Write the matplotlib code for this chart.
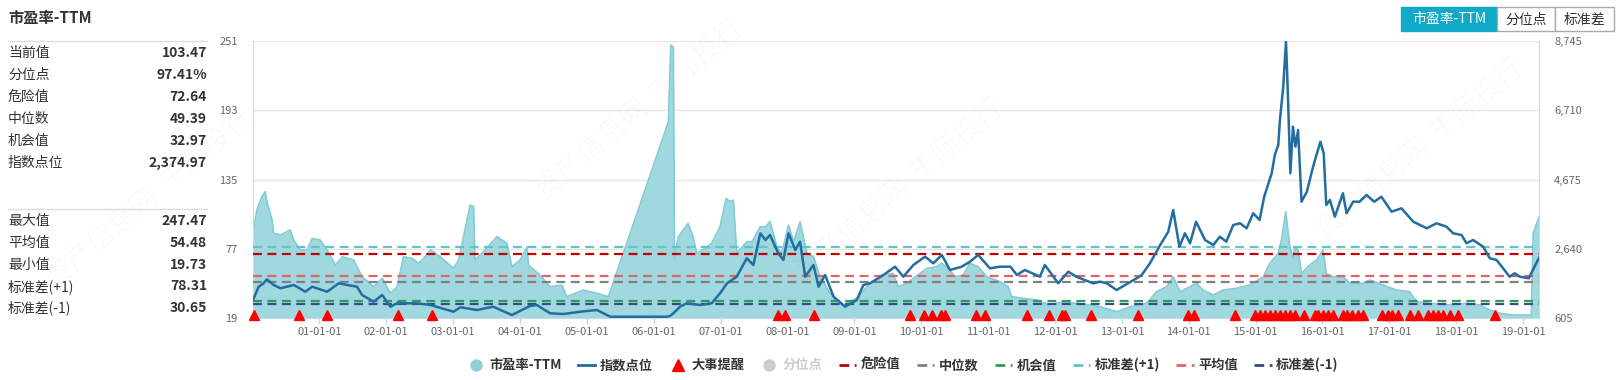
import matplotlib
matplotlib.use('Agg')
import matplotlib.pyplot as plt
import matplotlib.dates as mdates
import matplotlib.transforms as mtrans
from matplotlib.lines import Line2D
from matplotlib.patches import Rectangle
from matplotlib.ticker import FuncFormatter
import pandas as pd

plt.rcParams['font.family'] = ['Noto Sans CJK SC', 'DejaVu Sans']

# ---- data ----
pe_dates = ['2000-01-04', '2000-01-25', '2000-02-22', '2000-03-11', '2000-03-20', '2000-04-17', '2000-04-26',
            '2000-06-02', '2000-07-26', '2000-08-13', '2000-09-19', '2000-10-25', '2000-11-22', '2001-01-05',
            '2001-02-12', '2001-03-29', '2001-05-07', '2001-07-06', '2001-08-22', '2001-10-24', '2001-12-10',
            '2002-01-23', '2002-03-01', '2002-04-05', '2002-05-22', '2002-06-27', '2002-07-24', '2002-08-30',
            '2002-10-23', '2003-01-03', '2003-01-31', '2003-04-04', '2003-04-23', '2003-04-30', '2003-06-16',
            '2003-08-28', '2003-10-22', '2003-11-18', '2004-01-02', '2004-02-09', '2004-02-16', '2004-04-20',
            '2004-06-14', '2004-08-17', '2004-09-13', '2004-12-13', '2005-02-24', '2005-04-28', '2006-03-22',
            '2006-04-04', '2006-04-18', '2006-04-24', '2006-05-15', '2006-07-07', '2006-08-04', '2006-08-23',
            '2006-10-09', '2006-11-13', '2006-12-29', '2007-01-31', '2007-02-22', '2007-03-12', '2007-03-30',
            '2007-05-24', '2007-06-21', '2007-08-06', '2007-09-03', '2007-09-28', '2007-11-05', '2007-11-30',
            '2008-01-07', '2008-02-04', '2008-03-10', '2008-04-16', '2008-05-22', '2008-06-27', '2008-08-21',
            '2008-11-03', '2009-01-14', '2009-03-10', '2009-06-08', '2009-07-31', '2009-08-28', '2009-10-14',
            '2009-12-25', '2010-02-01', '2010-03-26', '2010-04-23', '2010-05-28', '2010-07-05', '2010-08-18',
            '2010-09-24', '2010-11-08', '2010-12-24', '2011-03-07', '2011-04-21', '2011-05-10', '2011-07-12',
            '2011-09-23', '2011-12-05', '2012-02-15', '2012-04-27', '2012-07-10', '2012-09-03', '2012-12-03',
            '2013-02-18', '2013-05-16', '2013-07-09', '2013-09-02', '2013-10-08', '2013-11-14', '2014-01-08',
            '2014-02-13', '2014-03-21', '2014-05-15', '2014-07-08', '2014-09-19', '2014-12-01', '2015-02-12',
            '2015-03-20', '2015-05-05', '2015-05-22', '2015-06-15', '2015-07-07', '2015-07-24', '2015-08-03',
            '2015-08-21', '2015-09-09', '2015-10-23', '2015-11-30', '2016-01-05', '2016-01-22', '2016-02-29',
            '2016-04-22', '2016-05-30', '2016-08-10', '2016-09-16', '2016-11-28', '2017-02-09', '2017-04-21',
            '2017-05-29', '2017-08-10', '2017-11-09', '2018-02-26', '2018-05-10', '2018-07-03', '2018-08-27',
            '2018-11-08', '2018-12-14', '2019-02-15', '2019-02-25', '2019-03-29']
pe_values = [89.9, 109.5, 120.6, 124.8, 116.4, 101.0, 89.9,
             88.5, 92.7, 84.3, 76.0, 76.0, 85.7, 84.3,
             76.0, 63.4, 70.3, 67.6, 53.6, 45.2, 52.2,
             39.7, 45.2, 70.3, 69.0, 64.8, 69.0, 76.0,
             70.3, 60.6, 67.6, 113.6, 112.2, 67.6, 74.5,
             87.1, 81.6, 62.0, 67.6, 78.7, 63.4, 55.0,
             45.2, 46.6, 36.8, 42.4, 39.7, 36.8, 183.4,
             247.5, 246.0, 69.0, 87.0, 98.3, 87.0, 73.2,
             77.4, 81.6, 95.5, 119.2, 116.4, 117.8, 73.2,
             82.9, 82.9, 95.5, 95.5, 99.7, 78.7, 73.2,
             96.9, 82.9, 99.7, 73.2, 70.3, 53.6, 39.7,
             29.9, 35.5, 45.2, 55.0, 56.4, 45.2, 48.1,
             56.4, 60.6, 62.0, 64.8, 60.6, 53.6, 55.0,
             64.8, 62.0, 53.6, 49.4, 45.2, 36.8, 35.5,
             34.1, 29.9, 32.7, 31.3, 29.9, 28.5, 24.3,
             28.5, 31.3, 41.1, 45.2, 53.6, 41.1, 45.2,
             48.1, 42.4, 38.3, 42.4, 43.9, 46.6, 53.6,
             64.8, 73.2, 84.3, 108.0, 78.7, 69.0, 78.7,
             76.0, 56.4, 63.4, 67.6, 76.0, 56.4, 53.6,
             53.6, 48.1, 48.1, 50.8, 46.6, 42.4, 41.1,
             32.7, 31.3, 29.9, 31.3, 29.9, 25.7, 22.9,
             21.5, 21.5, 21.5, 89.9, 103.5]

idx_dates = ['2000-01-04', '2000-02-04', '2000-03-02', '2000-03-20', '2000-04-26', '2000-06-02', '2000-08-14',
             '2000-10-16', '2000-11-22', '2001-02-12', '2001-04-16', '2001-06-01', '2001-07-25', '2001-08-22',
             '2001-10-24', '2001-12-10', '2002-01-23', '2002-03-01', '2002-06-18', '2002-08-30', '2003-01-03',
             '2003-02-10', '2003-05-12', '2003-08-08', '2003-11-18', '2004-02-25', '2004-04-02', '2004-06-14',
             '2004-08-26', '2004-11-25', '2005-02-24', '2005-05-09', '2006-03-13', '2006-03-31', '2006-04-18',
             '2006-05-24', '2006-06-30', '2006-09-11', '2006-11-13', '2006-12-29', '2007-02-05', '2007-03-30',
             '2007-05-24', '2007-06-29', '2007-08-06', '2007-09-03', '2007-09-28', '2007-11-12', '2007-12-10',
             '2008-01-07', '2008-02-13', '2008-03-10', '2008-04-07', '2008-05-22', '2008-06-19', '2008-07-25',
             '2008-09-09', '2008-11-11', '2009-01-14', '2009-02-19', '2009-03-27', '2009-06-08', '2009-08-11',
             '2009-09-25', '2009-11-19', '2010-01-22', '2010-03-08', '2010-04-23', '2010-06-07', '2010-08-10',
             '2010-09-24', '2010-11-08', '2011-01-11', '2011-03-07', '2011-05-03', '2011-06-07', '2011-07-21',
             '2011-10-11', '2011-11-07', '2012-01-19', '2012-03-14', '2012-04-27', '2012-07-27', '2012-09-03',
             '2012-10-10', '2012-12-03', '2013-03-22', '2013-04-19', '2013-06-03', '2013-07-29', '2013-09-11',
             '2013-10-08', '2013-11-11', '2013-12-11', '2014-01-08', '2014-02-10', '2014-03-31', '2014-05-15',
             '2014-06-20', '2014-07-25', '2014-09-01', '2014-10-08', '2014-11-13', '2014-12-19', '2015-01-23',
             '2015-02-17', '2015-03-30', '2015-04-16', '2015-05-05', '2015-05-14', '2015-06-01', '2015-06-16',
             '2015-06-22', '2015-07-10', '2015-07-24', '2015-08-07', '2015-08-21', '2015-09-09', '2015-10-08',
             '2015-11-11', '2015-11-30', '2015-12-21', '2016-01-08', '2016-01-22', '2016-02-11', '2016-03-09',
             '2016-04-22', '2016-05-12', '2016-06-17', '2016-07-22', '2016-08-29', '2016-10-10', '2016-11-18',
             '2017-01-13', '2017-03-08', '2017-05-11', '2017-07-24', '2017-09-15', '2017-11-09', '2017-12-15',
             '2018-01-30', '2018-02-26', '2018-04-03', '2018-05-28', '2018-07-03', '2018-08-09', '2018-09-14',
             '2018-10-19', '2018-11-16', '2018-12-14', '2019-02-01', '2019-03-29']
idx_values = [1134, 1525, 1625, 1742, 1575, 1478, 1575,
              1378, 1525, 1378, 1625, 1575, 1525, 1281,
              1084, 1281, 937, 1037, 1037, 987, 790,
              920, 840, 937, 693, 958, 987, 743,
              723, 790, 840, 643, 643, 664, 743,
              937, 1037, 987, 1037, 1331, 1625, 1819,
              2360, 2163, 3094, 2897, 3044, 2506, 2310,
              3094, 2603, 2848, 1819, 2163, 1525, 1869,
              1231, 937, 1134, 1575, 1625, 1869, 2113,
              1819, 2163, 2408, 2212, 2457, 2016, 2113,
              2260, 2457, 2065, 2113, 2113, 1869, 2016,
              1819, 2163, 1625, 1966, 1819, 1625, 1672,
              1625, 1428, 1772, 1869, 2212, 2750, 3141,
              3779, 2700, 3094, 2800, 3435, 2897, 2750,
              2995, 2848, 3338, 3388, 3241, 3682, 3485,
              4170, 4858, 5396, 5690, 6424, 7403, 8726,
              7894, 4858, 6228, 5640, 6130, 4023, 4317,
              5052, 5396, 5786, 5446, 3926, 4073, 3582,
              4270, 3682, 4023, 4023, 4220, 4023, 4170,
              3729, 3829, 3435, 3241, 3388, 3288, 3094,
              3044, 2800, 2897, 2700, 2360, 2310, 2065,
              1819, 1919, 1820, 1772, 2375]

event_dates = ['2000-01-07', '2000-09-10', '2001-02-12', '2002-03-06', '2002-09-08',
               '2007-11-12', '2007-12-19', '2008-05-27', '2009-11-01', '2010-01-16', '2010-02-27',
               '2010-04-19', '2010-05-10', '2010-10-27', '2010-12-14', '2011-08-03', '2011-11-30',
               '2012-02-06', '2012-02-24', '2012-07-14', '2013-03-29', '2013-12-29', '2014-01-31',
               '2014-09-13', '2014-12-28', '2015-01-24', '2015-02-21', '2015-03-20', '2015-04-16',
               '2015-05-14', '2015-06-10', '2015-07-07', '2015-08-03', '2015-09-21', '2015-11-20',
               '2015-12-08', '2016-01-05', '2016-02-01', '2016-02-28', '2016-04-23', '2016-05-12',
               '2016-06-08', '2016-07-14', '2016-08-10', '2016-11-19', '2016-12-26', '2017-01-13',
               '2017-02-18', '2017-04-22', '2017-06-07', '2017-07-31', '2017-08-27', '2017-09-24',
               '2017-10-21', '2017-11-27', '2018-01-11', '2018-08-02']

ref_names = ['危险值', '中位数', '机会值', '标准差(+1)', '平均值', '标准差(-1)']
ref_values = [72.64, 49.39, 32.97, 78.31, 54.48, 30.65]

stat_top_labels = ['当前值', '分位点', '危险值', '中位数', '机会值', '指数点位']
stat_top_values = ['103.47', '97.41%', '72.64', '49.39', '32.97', '2,374.97']
stat_bot_labels = ['最大值', '平均值', '最小值', '标准差(+1)', '标准差(-1)']
stat_bot_values = ['247.47', '54.48', '19.73', '78.31', '30.65']

pe_ticks = [19, 77, 135, 193, 251]
idx_ticks = [605, 2640, 4675, 6710, 8745]

# ---- styles ----
ref_colors = {'危险值': '#c00000', '中位数': '#808080', '机会值': '#2e9a5a',
              '标准差(+1)': '#63c3c9', '平均值': '#e06666', '标准差(-1)': '#3c4a8a'}
area_fill = '#a0d8e0'
area_edge = '#83cbd6'
idx_color = '#236ea0'
txt = '#333333'

pe_x = pd.to_datetime(pe_dates)
idx_x = pd.to_datetime(idx_dates)
ev_x = pd.to_datetime(event_dates)

W, H = 1621, 380
fig = plt.figure(figsize=(W / 100, H / 100), dpi=100)

# overlay in pixel coordinates for the side panel and the buttons
ov = fig.add_axes([0, 0, 1, 1])
ov.set_xlim(0, W)
ov.set_ylim(H, 0)
ov.axis('off')

ov.text(8, 18, '市盈率-TTM', fontsize=11, fontweight='bold', color=txt, va='center')
ov.plot([8, 207], [41, 41], color='#dddddd', lw=1)
ov.plot([8, 207], [209, 209], color='#dddddd', lw=1)
for i, (lab, val) in enumerate(zip(stat_top_labels, stat_top_values)):
    y = 53 + i * 22
    ov.text(8, y, lab, fontsize=10, color=txt, va='center')
    ov.text(207, y, val, fontsize=10, color=txt, va='center', ha='right', fontweight='bold')
for i, (lab, val) in enumerate(zip(stat_bot_labels, stat_bot_values)):
    y = 221 + i * 21.8
    ov.text(8, y, lab, fontsize=10, color=txt, va='center')
    ov.text(207, y, val, fontsize=10, color=txt, va='center', ha='right', fontweight='bold')

buttons = [('市盈率-TTM', 1401, 96, True), ('分位点', 1497, 58, False), ('标准差', 1555, 59, False)]
for name, bx, bw, active in buttons:
    ov.add_patch(Rectangle((bx, 7), bw, 24, facecolor='#10a9c6' if active else 'white',
                           edgecolor='#10a9c6' if active else '#aaaaaa', lw=1))
    ov.text(bx + bw / 2, 19.5, name, fontsize=10, color='white' if active else txt,
            ha='center', va='center')

# ---- main chart ----
ax = fig.add_axes([253 / W, 1 - 318 / H, (1539 - 253) / W, (318 - 41) / H])
ax.patch.set_alpha(0)
ax.fill_between(pe_x, pe_ticks[0], pe_values, color=area_fill, lw=0, zorder=2)
ax.plot(pe_x, pe_values, color=area_edge, lw=1.2, zorder=2)

for name, v in zip(ref_names, ref_values):
    ax.axhline(v, color=ref_colors[name], lw=1.6, dashes=(4, 2.5), zorder=3)

shift = mtrans.ScaledTranslation(0, 2.5 / 72, fig.dpi_scale_trans)
ax.plot(ev_x, [pe_ticks[0]] * len(ev_x), ls='', marker='^', ms=7.5, color='#ff0000',
        zorder=6, clip_on=False, transform=ax.transData + shift)

ax.set_ylim(pe_ticks[0], pe_ticks[-1])
ax.set_yticks(pe_ticks)
ax.set_xlim(pe_x[0], pe_x[-1])
ax.xaxis.set_major_locator(mdates.YearLocator())
ax.xaxis.set_major_formatter(mdates.DateFormatter('%y-%m-%d'))
ax.grid(axis='y', color='#e6e6e6', lw=1, zorder=0)
ax.tick_params(axis='y', length=0, colors='#666666', labelsize=8, pad=11)
ax.tick_params(axis='x', length=4.5, width=1, color='#ccd6eb', labelcolor='#666666', labelsize=8, pad=2)
ax.spines['top'].set_visible(False)
ax.spines['bottom'].set_color('#ccd6eb')
ax.spines['left'].set_color('#ccd6eb')
ax.spines['right'].set_color('#ccd6eb')

tw = ax.twinx()
tw.plot(idx_x, idx_values, color=idx_color, lw=1.8, zorder=4)
tw.set_ylim(idx_ticks[0], idx_ticks[-1])
tw.set_yticks(idx_ticks)
tw.yaxis.set_major_formatter(FuncFormatter(lambda v, p: f'{v:,.0f}'))
tw.tick_params(axis='y', length=0, colors='#666666', labelsize=8, pad=11)
for s in tw.spines.values():
    s.set_visible(False)

# ---- legend ----
handles = [Line2D([], [], ls='', marker='o', ms=8, color='#8fd0da'),
           Line2D([], [], color=idx_color, lw=2),
           Line2D([], [], ls='', marker='^', ms=9, color='#ff0000'),
           Line2D([], [], ls='', marker='o', ms=8, color='#cccccc')]
labels = ['市盈率-TTM', '指数点位', '大事提醒', '分位点']
for name in ref_names:
    handles.append(Line2D([], [], color=ref_colors[name], lw=2, dashes=(3.5, 2, 1, 2)))
    labels.append(name)
leg = fig.legend(handles, labels, loc='center', bbox_to_anchor=(903 / W, 1 - 365 / H), ncol=len(labels),
                 frameon=False, prop={'size': 9.5, 'weight': 'bold'}, handlelength=1.3,
                 handletextpad=0.35, columnspacing=1.25)
for t in leg.get_texts():
    t.set_color('#cccccc' if t.get_text() == '分位点' else txt)

# faint watermark
wm = fig.add_axes([0, 0, 1, 1])
wm.set_xlim(0, W)
wm.set_ylim(H, 0)
wm.axis('off')
for cx, cy in [(150, 200), (640, 110), (900, 190), (1420, 150)]:
    wm.text(cx, cy, '资产信息网  千际投行', rotation=40, fontsize=20, color='#000000', alpha=0.025,
            ha='center', va='center')

fig.savefig('out.png', dpi=100)
